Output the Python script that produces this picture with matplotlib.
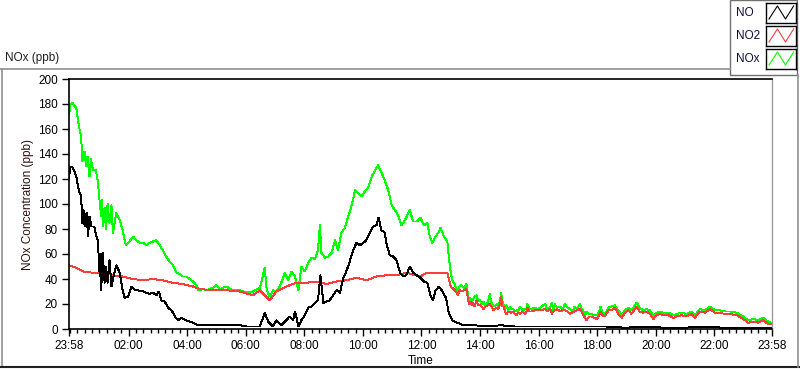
import matplotlib
matplotlib.use("Agg")
import matplotlib.pyplot as plt
from matplotlib.lines import Line2D
from matplotlib.patches import Rectangle

# minutes after 23:58 (start of record) and readings in ppb
t_nox = [0, 3, 7, 10, 15, 19, 22, 25, 27, 32, 35, 38, 42, 45, 49, 55, 59, 63, 66, 68,
         70, 73, 76, 79, 83, 87, 90, 97, 104, 110, 114, 117, 124, 131, 138, 145, 152, 158,
         165, 172, 179, 186, 192, 199, 206, 213, 220, 227, 233, 240, 247, 254, 261, 264,
         275, 281, 295, 302, 309, 322, 336, 350, 364, 377, 391, 401, 405, 411, 418, 425,
         432, 442, 449, 456, 463, 470, 476, 483, 490, 497, 504, 510, 514, 517, 524, 531,
         538, 545, 551, 558, 565, 572, 579, 586, 592, 599, 606, 613, 620, 627, 633, 640,
         647, 654, 661, 668, 674, 681, 688, 698, 705, 713, 720, 727, 734, 739, 744, 751,
         758, 761, 768, 775, 778, 782, 786,
         790, 794, 797, 800, 804, 809, 814, 819, 822, 825, 828, 831, 835, 838, 842, 845,
         849, 852, 855, 858, 862, 865, 869, 872, 876, 879, 883, 885, 888, 890, 893, 896,
         900, 903, 906, 910, 913, 917, 920, 924, 929, 934, 937, 939, 943, 948, 954, 961,
         968, 975, 980, 986, 989, 992, 995, 1000, 1006, 1011, 1016, 1021, 1026, 1031,
         1036, 1041, 1047, 1050, 1053, 1057, 1060, 1065, 1071, 1076, 1081, 1085, 1089,
         1093, 1098,
         1105, 1111, 1118, 1125, 1132, 1139, 1146, 1152, 1163, 1169, 1176, 1183, 1190,
         1197, 1204, 1210, 1217, 1228, 1238, 1245, 1255, 1265, 1275, 1282, 1292, 1303,
         1313, 1323, 1333, 1344, 1354, 1368, 1381, 1391, 1402, 1412, 1422, 1432, 1438]
nox = [171, 180, 181, 179, 177, 165, 159, 154, 134, 142, 130, 138, 122, 136, 127, 127, 118, 101, 90, 103,
       82, 97, 80, 100, 85, 99, 77, 93, 87, 79, 71, 67, 70, 74, 71, 69, 69, 67,
       69, 70, 71, 67, 63, 58, 54, 51, 45, 44, 42, 42, 40, 38, 35, 31,
       32, 31, 33, 35, 32, 34, 31, 31, 29, 30, 33, 49, 31, 26, 31, 30,
       34, 45, 39, 46, 42, 31, 50, 46, 53, 57, 56, 63, 83, 61, 57, 58,
       61, 71, 63, 77, 81, 90, 99, 111, 109, 106, 110, 113, 122, 127, 131, 125,
       119, 111, 99, 95, 91, 83, 87, 95, 86, 86, 89, 83, 85, 74, 69, 74,
       78, 81, 74, 70, 58, 45, 38,
       36, 32, 30, 34, 35, 33, 36, 23, 25, 21, 24, 26, 27, 22, 23, 20,
       22, 19, 20, 22, 28, 21, 19, 18, 20, 18, 23, 29, 22, 20, 16, 19,
       15, 18, 16, 16, 14, 15, 14, 18, 15, 16, 16, 20, 16, 16, 17, 16,
       18, 20, 16, 18, 21, 15, 20, 17, 18, 16, 20, 17, 16, 14,
       18, 16, 20, 16, 15, 11, 14, 12, 12, 11, 11, 13, 18,
       13, 12,
       17, 18, 19, 15, 11, 15, 17, 15, 21, 17, 15, 16, 15,
       10, 13, 14, 13, 13, 11, 12, 13, 12, 14, 11, 16, 15,
       18, 15, 15, 14, 14, 13, 10, 7, 8, 7, 9, 6, 5]

t_no = [0, 3, 8, 15, 20, 25, 27, 30, 32, 36, 39, 42, 46, 52, 56, 59, 63, 65, 66, 69,
        73, 76, 79, 83, 87, 94, 97, 104, 110, 114, 121, 128, 135, 141, 152, 158, 165,
        172, 179, 184, 189, 196, 203, 210, 217, 223, 230, 240, 254, 264, 281, 302, 322,
        350, 363, 377, 391, 401, 408, 418, 425, 435, 445, 452, 459, 463, 470, 476, 483,
        490, 497, 504, 510, 515, 521, 528, 534, 541, 548, 555, 562, 568, 575, 582, 589,
        596, 603, 609, 616, 623, 630, 634, 640, 647, 650, 657, 664, 671, 678, 685, 691,
        698, 705, 712, 720, 727, 734, 741, 746, 751, 758, 765, 772, 778, 785, 795, 809,
        830, 857, 884, 912, 946, 980, 1014, 1075, 1100, 1140, 1180, 1220, 1260, 1300,
        1340, 1380, 1438]
no = [121, 130, 129, 122, 111, 106, 85, 95, 82, 93, 74, 90, 82, 82, 74, 71, 42, 60, 31, 61,
      37, 50, 37, 55, 34, 47, 51, 45, 31, 25, 26, 34, 31, 31, 30, 29, 28,
      29, 27, 30, 23, 22, 17, 15, 10, 7, 9, 7, 5, 3, 3, 3, 3,
      3, 2, 2, 2, 13, 6, 2, 7, 3, 7, 10, 7, 14, 2, 7, 11,
      17, 18, 21, 23, 43, 21, 22, 23, 27, 31, 29, 41, 46, 54, 63, 69,
      67, 69, 71, 77, 82, 83, 89, 79, 77, 69, 59, 58, 55, 45, 42, 43,
      50, 45, 43, 41, 38, 37, 26, 23, 31, 34, 30, 25, 13, 7, 5, 3,
      3, 2, 3, 2, 2, 2, 2, 2, 2, 1, 2, 1, 1, 2,
      1, 1, 1]

t_no2 = [0, 15, 29, 49, 70, 90, 110, 131, 152, 172, 192, 213, 233, 254, 268, 295, 322,
         350, 377, 391, 411, 425, 445, 466, 486, 507, 527, 548, 568, 589, 609, 630, 650,
         671, 691, 719, 734, 754, 775, 782,
         790, 794, 797, 800, 804, 809, 814, 819, 822, 825, 828, 831, 835, 838, 842, 845,
         849, 852, 855, 858, 862, 865, 869, 872, 876, 879, 883, 885, 888, 890, 893, 896,
         900, 903, 906, 910, 913, 917, 920, 924, 929, 934, 937, 939, 943, 948, 954, 961,
         968, 975, 980, 986, 989, 992, 995, 1000, 1006, 1011, 1016, 1021, 1026, 1031,
         1036, 1041, 1047, 1050, 1053, 1057, 1060, 1065, 1071, 1076, 1081, 1085, 1089,
         1093, 1098,
         1105, 1111, 1118, 1125, 1132, 1139, 1146, 1152, 1163, 1169, 1176, 1183, 1190,
         1197, 1204, 1210, 1217, 1228, 1238, 1245, 1255, 1265, 1275, 1282, 1292, 1303,
         1313, 1323, 1333, 1344, 1354, 1368, 1381, 1391, 1402, 1412, 1422, 1432, 1438]
no2 = [51, 49, 46, 45, 45, 43, 42, 40, 39, 40, 39, 37, 36, 34, 32, 31, 31,
       30, 27, 31, 23, 30, 34, 37, 37, 38, 36, 38, 39, 41, 39, 42, 43,
       43, 45, 42, 45, 45, 45, 34,
       31, 29, 27, 31, 30, 31, 32, 20, 22, 19, 21, 18, 23, 19, 19, 18,
       16, 18, 18, 19, 20, 18, 15, 16, 17, 16, 20, 26, 18, 18, 14, 12,
       14, 14, 13, 14, 12, 11, 13, 12, 14, 12, 14, 17, 14, 14, 15, 15,
       15, 16, 14, 16, 12, 14, 15, 16, 14, 15, 15, 14, 12, 13,
       14, 15, 16, 14, 11, 9, 7, 10, 10, 9, 8, 10, 14,
       11, 10,
       15, 15, 17, 12, 9, 13, 15, 12, 18, 14, 13, 14, 12,
       8, 11, 12, 11, 11, 9, 10, 11, 10, 12, 9, 14, 13,
       16, 13, 13, 12, 12, 11, 8, 5, 6, 5, 7, 4, 4]

major_ticks = [0, 122, 242, 362, 482, 602, 722, 842, 962, 1082, 1202, 1322, 1440]
major_labels = ["23:58", "02:00", "04:00", "06:00", "08:00", "10:00", "12:00",
                "14:00", "16:00", "18:00", "20:00", "22:00", "23:58"]
minor_ticks = list(range(2, 1440, 15))

series_names = ["NO", "NO2", "NOx"]
series_colors = ["#000000", "#ff3c3c", "#00ff00"]

plt.rcParams['font.family'] = ['Liberation Sans', 'DejaVu Sans']
plt.rcParams['font.size'] = 8

fig = plt.figure(figsize=(8, 3.69), dpi=100)
fig.patch.set_facecolor('white')
W, H = 800, 369

def fx(px):
    return px / W

def fy(py):
    return 1 - py / H

ax = fig.add_axes([fx(69), fy(329), fx(772) - fx(69), fy(79) - fy(329)])
ax.plot(t_nox, nox, color=series_colors[2], lw=0.7, antialiased=False)
ax.plot(t_no2, no2, color=series_colors[1], lw=0.7, antialiased=False)
ax.plot(t_no, no, color=series_colors[0], lw=0.7, antialiased=False)

ax.set_xlim(0, 1440)
ax.set_ylim(0, 200)
ax.set_yticks(range(0, 201, 20))
ax.set_xticks(major_ticks)
ax.set_xticklabels(major_labels)
ax.set_xticks(minor_ticks, minor=True)
ax.tick_params(axis='both', which='major', length=5, width=1, color='black', labelsize=8.5, pad=3)
ax.tick_params(axis='x', which='minor', length=3, width=1, color='black')
for side in ['left', 'top', 'bottom']:
    ax.spines[side].set_color('black')
    ax.spines[side].set_linewidth(1.2)
ax.spines['right'].set_color('#999999')
ax.spines['right'].set_linewidth(1.0)

ax.set_xlabel("Time", fontsize=8.5, labelpad=2)
ax.set_ylabel("NOx Concentration (ppb)", fontsize=8.5, color='#301010')
ax.yaxis.set_label_coords(-0.05, 0.5)

# outer frame of the graph panel
fig.add_artist(Line2D([0, fx(730)], [fy(69), fy(69)], color='#909090', lw=1.2))
fig.add_artist(Line2D([fx(1.5), fx(1.5)], [fy(69), fy(367)], color='#909090', lw=1.2))
fig.add_artist(Line2D([0, 1], [fy(367), fy(367)], color='#202020', lw=1.5))
fig.add_artist(Line2D([fx(797.5), fx(797.5)], [fy(75), fy(367)], color='#909090', lw=1.2))
fig.text(fx(5), fy(58), "NOx (ppb)", fontsize=8.5, va='center', ha='left', color='#202020')

# legend panel
legend_bg = Rectangle((fx(730), fy(75)), fx(797) - fx(730), fy(0) - fy(75),
                      facecolor='white', edgecolor='#707070', lw=1.0, zorder=-1)
fig.add_artist(legend_bg)
for i, (name, col) in enumerate(zip(series_names, series_colors)):
    top = 3 + i * 23
    fig.text(fx(736), fy(top + 10), name, fontsize=8.5, va='center', ha='left', color='#101040')
    box = fig.add_axes([fx(766), fy(top + 20), fx(30), fy(0) - fy(20)])
    box.set_zorder(5)
    box.set_xlim(0, 1)
    box.set_ylim(0, 1)
    box.set_xticks([])
    box.set_yticks([])
    for s in box.spines.values():
        s.set_color('black')
        s.set_linewidth(1.0)
    box.plot([0.1, 0.38, 0.65, 0.92], [0.2, 0.85, 0.2, 0.85], color=col, lw=0.8)

fig.savefig("out.png", dpi=100, facecolor='white')
